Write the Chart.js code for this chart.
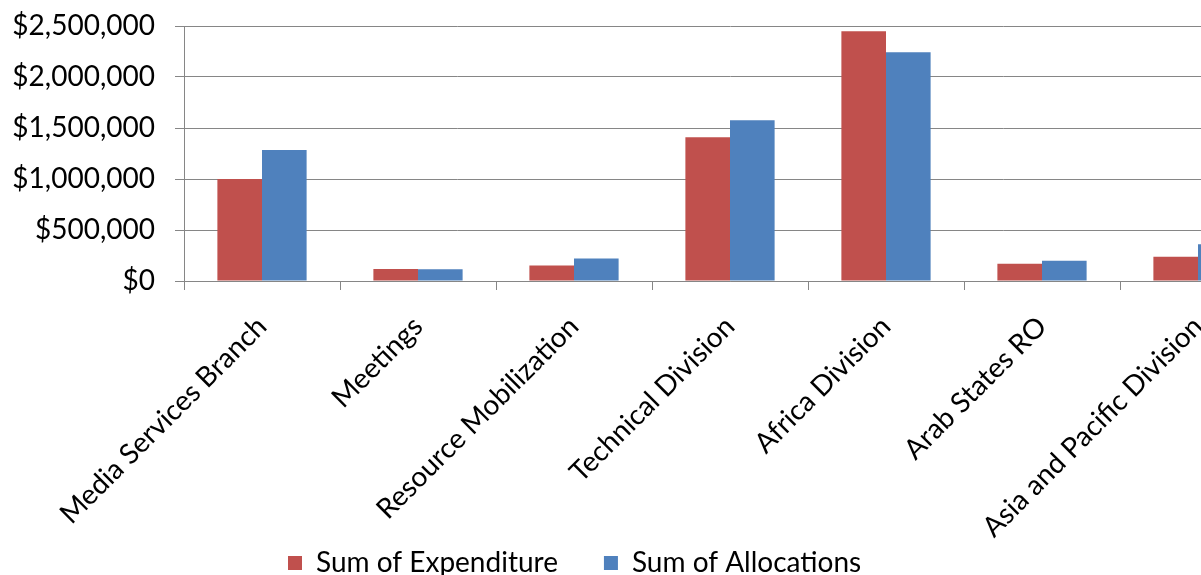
<!DOCTYPE html>
<html>
<head>
<meta charset="utf-8">
<script src="https://cdn.jsdelivr.net/npm/chart.js@4.4.1/dist/chart.umd.min.js"></script>
<style>
  html, body { margin: 0; padding: 0; background: #ffffff; overflow: hidden; }
  #wrap { position: absolute; left: 0; top: 0; width: 1276px; height: 587px; }
</style>
</head>
<body>
<div id="wrap"><canvas id="c"></canvas></div>
<script>
const categories = [
  "Media Services Branch",
  "Meetings",
  "Resource Mobilization",
  "Technical Division",
  "Africa Division",
  "Arab States RO",
  "Asia and Pacific Division"
];
const expenditure = [1000000, 118000, 152000, 1410000, 2448000, 169000, 238000];
const allocations = [1285000, 115000, 221000, 1577000, 2242000, 198000, 361000];
const seriesNames = ["Sum of Expenditure", "Sum of Allocations"];
const yTicks = [0, 500000, 1000000, 1500000, 2000000, 2500000];

const FONT = "Lato, 'Open Sans', sans-serif";

const layoutTweak = {
  id: 'layoutTweak',
  afterLayout(chart) {
    const lg = chart.legend;
    if (lg) { lg.left = 288 - 46; }
    const xs = chart.scales.x;
    if (xs) { xs.bottom = chart.height - 40; }
  }
};

new Chart(document.getElementById('c'), {
  type: 'bar',
  data: {
    labels: categories,
    datasets: [
      { label: seriesNames[0], data: expenditure, backgroundColor: '#C0504D', borderWidth: 0,
        categoryPercentage: 0.572, barPercentage: 1.0 },
      { label: seriesNames[1], data: allocations, backgroundColor: '#4F81BD', borderWidth: 0,
        categoryPercentage: 0.572, barPercentage: 1.0 }
    ]
  },
  plugins: [layoutTweak],
  options: {
    responsive: true,
    maintainAspectRatio: false,
    animation: false,
    layout: { padding: { top: 26, left: 0, right: 0, bottom: 0 } },
    plugins: {
      tooltip: { enabled: false },
      legend: {
        position: 'bottom',
        align: 'start',
        labels: {
          boxWidth: 14, boxHeight: 14, padding: 46,
          color: '#000000',
          font: { family: FONT, size: 28 }
        }
      }
    },
    scales: {
      x: {
        grid: { drawOnChartArea: false, offset: true, tickLength: 9, color: '#868686', lineWidth: 1 },
        border: { color: '#868686', width: 1 },
        ticks: {
          autoSkip: false, minRotation: 45, maxRotation: 45, padding: 20,
          color: '#000000', font: { family: FONT, size: 28 }
        },
        afterFit(scale) {
          scale.height = 222;
          scale.paddingLeft = 0; scale.paddingRight = 0;
        }
      },
      y: {
        min: 0, max: 2500000,
        afterBuildTicks(scale) { scale.ticks = yTicks.map(v => ({ value: v })); },
        grid: { color: '#868686', lineWidth: 1, tickLength: 9 },
        border: { color: '#868686', width: 1 },
        ticks: {
          padding: 20, color: '#000000', font: { family: FONT, size: 28 },
          callback: v => '$' + Number(v).toLocaleString('en-US')
        },
        afterFit(scale) {
          scale.width = 184;
          scale.paddingTop = 0; scale.paddingBottom = 0;
        }
      }
    }
  }
});
</script>
</body>
</html>
